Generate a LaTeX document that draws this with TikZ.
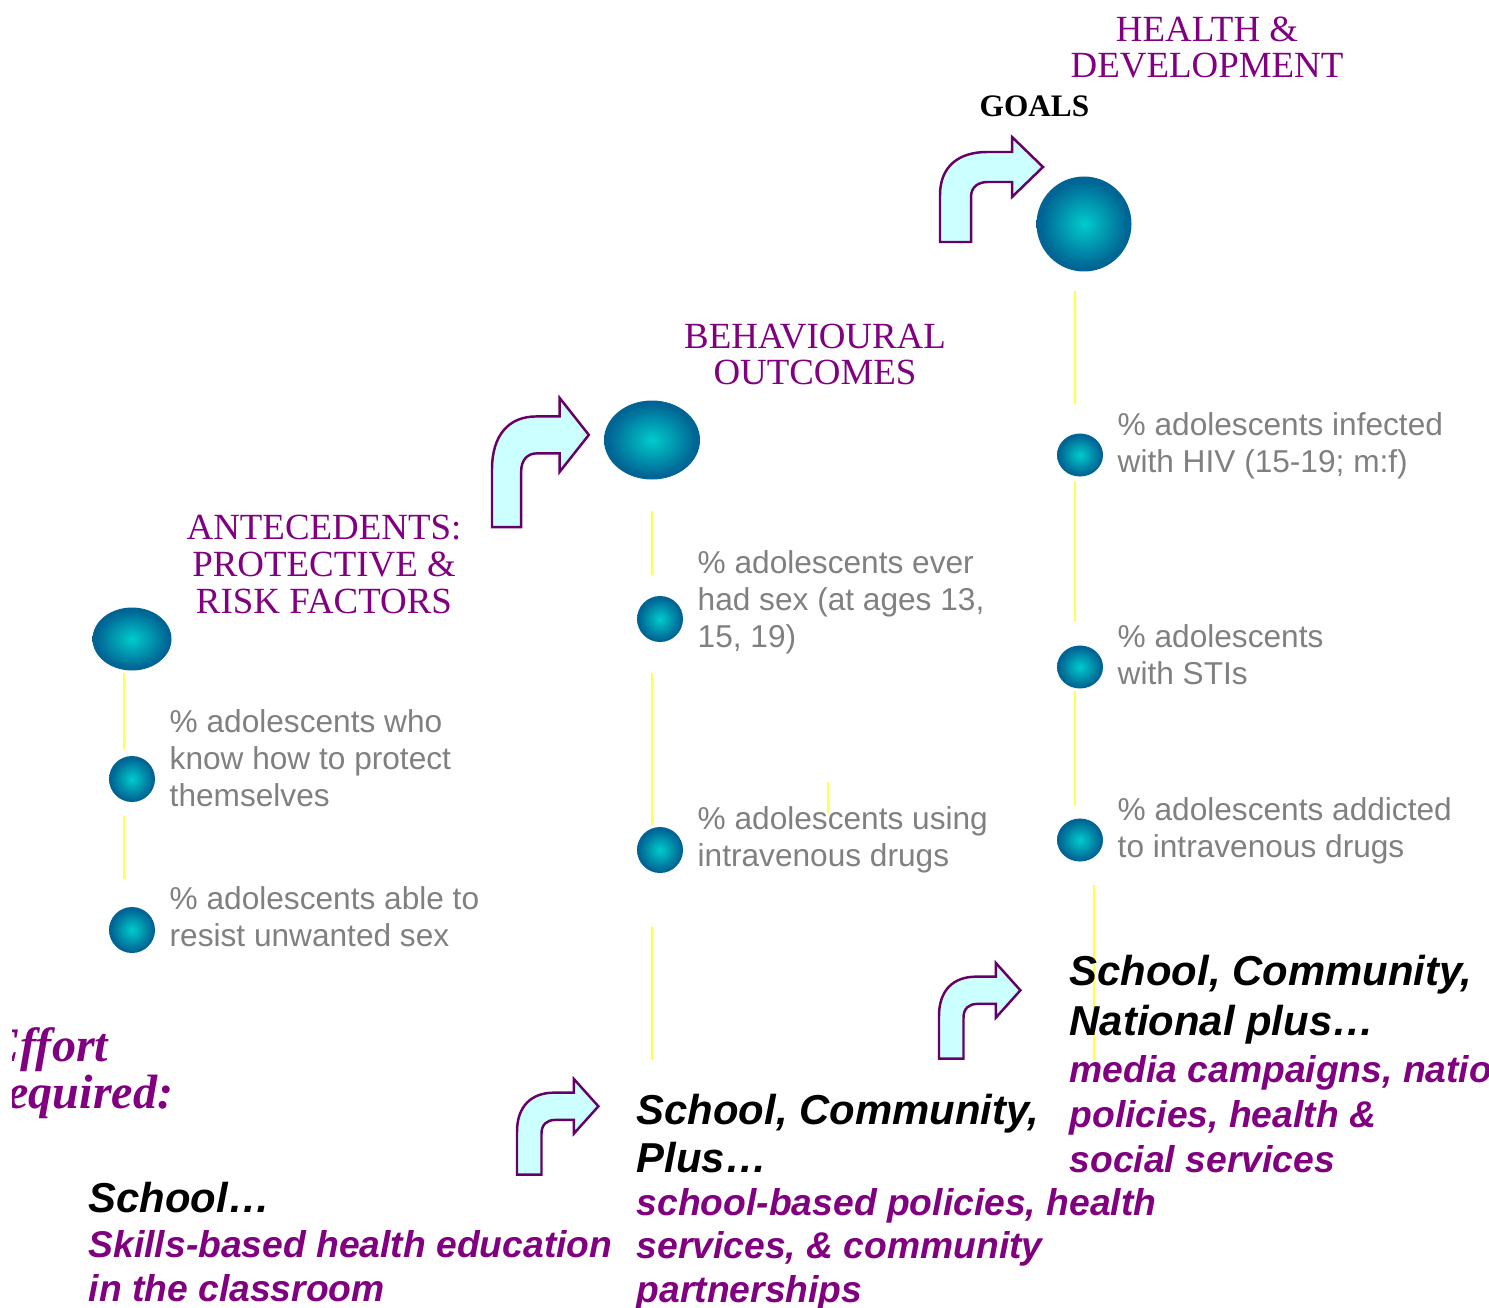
\documentclass[tikz,border=0pt]{standalone}
\usepackage{fontspec}
\setmainfont{Liberation Serif}
\setsansfont{Liberation Sans}
\usepackage{tikz}
\usetikzlibrary{shapes.geometric}
\definecolor{headpurple}{RGB}{128, 0, 128}
\definecolor{labelgrey}{RGB}{128, 128, 128}
\definecolor{sphcore}{RGB}{0, 204, 204}
\definecolor{sphedge}{RGB}{0, 100, 148}
\definecolor{arrowfill}{RGB}{204, 255, 255}
\definecolor{arrowline}{RGB}{102, 0, 102}
\definecolor{stemyellow}{RGB}{255, 255, 80}
\pgfdeclareradialshading{sphere}{\pgfpoint{0bp}{0bp}}{color(0bp)=(sphcore); color(23bp)=(sphedge); color(25bp)=(sphedge); color(50bp)=(sphedge)}

% bent-up block arrow: x, y of top-left corner, xscale, yscale
\newcommand{\turnarrow}[4]{%
    \begin{scope}[shift={(#1,#2)}, xscale=#3, yscale=#4]
        \draw[bendarrow] (0,105) -- (0,58) .. controls (0,30) and (18,15) .. (47,15) -- (72,15) -- (72,0)
            -- (103,30) -- (72,60) -- (72,45) -- (48,45) .. controls (38,45) and (31,50) .. (31,60) -- (31,105) -- cycle;
    \end{scope}}

\begin{document}
\begin{tikzpicture}[x=0.1mm, y=-0.1mm,
    bead/.style={ellipse, inner sep=0pt, shading=sphere, minimum width=4.6mm, minimum height=4.6mm},
    stem/.style={draw=stemyellow, line width=0.6pt},
    bendarrow/.style={fill=arrowfill, draw=arrowline, line width=0.7pt},
    headtxt/.style={text=headpurple, font=\fontsize{10.5pt}{10.5pt}\selectfont, align=center, anchor=base, inner sep=0pt},
    itemtxt/.style={text=labelgrey, font=\sffamily\fontsize{9pt}{10.5pt}\selectfont, align=left, anchor=base west, inner sep=0pt},
    leveltxt/.style={font=\sffamily\bfseries\itshape\fontsize{11.9pt}{13.4pt}\selectfont, align=left, anchor=base west, inner sep=0pt},
    meanstxt/.style={text=headpurple, font=\sffamily\bfseries\itshape\fontsize{10.6pt}{12.3pt}\selectfont, align=left, anchor=base west, inner sep=0pt}]
    \useasboundingbox (0,0) rectangle (1489,1307);

    % spheres
    \node[bead, minimum width=9.5mm, minimum height=9.5mm] (goal) at (1084,224) {};
    \node[bead, minimum width=9.6mm, minimum height=7.9mm] (behav) at (652,440) {};
    \node[bead, minimum width=7.9mm, minimum height=6.3mm] (ante) at (132,639) {};
    \node[bead] (know) at (132,779) {};
    \node[bead] (resist) at (132,930) {};
    \node[bead] (eversex) at (660,619) {};
    \node[bead] (ivuse) at (660,850) {};
    \node[bead, minimum height=4.3mm] (hiv) at (1080,455) {};
    \node[bead, minimum height=4.3mm] (sti) at (1080,667) {};
    \node[bead, minimum height=4.3mm] (addict) at (1080,840) {};

    % yellow stems
    \draw[stem, shorten <=0.5pt, shorten >=1.7pt] ([xshift=-0.8mm]ante.south) -- ([xshift=-0.8mm]know.north);
    \draw[stem, shorten <=3.7pt, shorten >=7.7pt] ([xshift=-0.8mm]know.south) -- ([xshift=-0.8mm]resist.north);
    \draw[stem, shorten <=8.8pt, shorten >=5.7pt] (behav.south) -- ([xshift=-0.8mm]eversex.north);
    \draw[stem, shorten <=8.5pt, shorten >=0.3pt] ([xshift=-0.8mm]eversex.south) -- ([xshift=-0.8mm]ivuse.north);
    \coordinate (midfoot) at (652,1060);
    \draw[stem, shorten <=15pt] ([xshift=-0.8mm]ivuse.south) -- (midfoot);
    \coordinate (straytop) at (828,782);
    \coordinate (straybot) at (828,813);
    \draw[stem] (straytop) -- (straybot);
    \draw[stem, shorten <=5.4pt, shorten >=8.3pt] ([xshift=-0.9mm]goal.south) -- ([xshift=-0.5mm]hiv.north);
    \draw[stem, shorten <=1.1pt, shorten >=6.8pt] ([xshift=-0.5mm]hiv.south) -- ([xshift=-0.5mm]sti.north);
    \draw[stem, shorten <=0.6pt, shorten >=3.7pt] ([xshift=-0.5mm]sti.south) -- ([xshift=-0.5mm]addict.north);
    \coordinate (rightfoot) at (1094,1060);
    \draw[stem, shorten <=6.5pt] ([xshift=1.4mm]addict.south) -- (rightfoot);

    % bent arrows
    \turnarrow{940}{137}{1}{1}
    \turnarrow{492}{398}{0.94}{1.23}
    \turnarrow{517}{1079}{0.79}{0.91}
    \turnarrow{939}{963}{0.79}{0.91}

    % headings (y = baseline of last line)
    \node[headtxt] (healthhd) at (1207,78) {HEALTH \&\\DEVELOPMENT};
    \node[font=\bfseries\fontsize{8.9pt}{8.9pt}\selectfont, anchor=base west, inner sep=0pt] (goalhd) at (979,117) {GOALS};
    \node[headtxt] (behavhd) at (815,385) {BEHAVIOURAL\\OUTCOMES};
    \node[headtxt] (antehd) at (324,613) {ANTECEDENTS:\\PROTECTIVE \&\\RISK FACTORS};
    \begin{scope}
        \clip (12,1000) rectangle (400,1130);
        \node[text=headpurple, font=\bfseries\itshape\fontsize{13.7pt}{13.2pt}\selectfont, align=left, anchor=base west, inner sep=0pt] (efforthd) at (-12,1108) {Effort\\required:};
    \end{scope}

    % indicators
    \node[itemtxt] (knowtxt) at (169,806) {\% adolescents who\\know how to protect\\themselves};
    \node[itemtxt] (resisttxt) at (169,946) {\% adolescents able to\\resist unwanted sex};
    \node[itemtxt] (eversextxt) at (697,647) {\% adolescents ever\\had sex (at ages 13,\\15, 19)};
    \node[itemtxt] (ivusetxt) at (697,866) {\% adolescents using\\intravenous drugs};
    \node[itemtxt] (hivtxt) at (1117,472) {\% adolescents infected\\with HIV (15-19; m:f)};
    \node[itemtxt] (stitxt) at (1117,684) {\% adolescents\\with STIs};
    \node[itemtxt] (addicttxt) at (1117,857) {\% adolescents addicted\\to intravenous drugs};

    % effort levels
    \node[leveltxt] (schooltxt) at (88,1212) {School…};
    \node[meanstxt] (schoolmeans) at (88,1301) {Skills-based health education\\in the classroom};
    \node[leveltxt] (commtxt) at (636,1172) {School, Community,\\Plus…};
    \node[meanstxt] (commmeans) at (636,1302) {school-based policies, health\\services, \& community\\partnerships};
    \node[leveltxt, font=\sffamily\bfseries\itshape\fontsize{11.9pt}{14.2pt}\selectfont] (nattxt) at (1069,1035) {School, Community,\\National plus…};
    \node[meanstxt, font=\sffamily\bfseries\itshape\fontsize{10.6pt}{12.8pt}\selectfont] (natmeans) at (1069,1172) {media campaigns, national\\policies, health \&\\social services};
\end{tikzpicture}
\end{document}
